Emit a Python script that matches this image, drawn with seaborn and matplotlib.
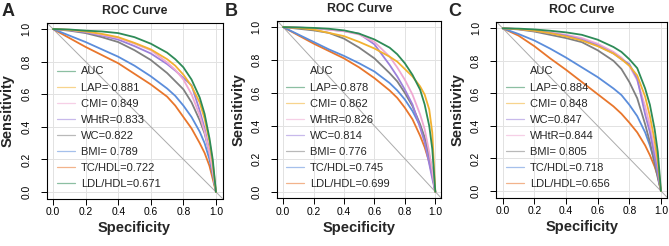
import numpy as np
import pandas as pd
import matplotlib
matplotlib.use("Agg")
import matplotlib.pyplot as plt
from matplotlib.lines import Line2D
import seaborn as sns

# ---------------- data ----------------
SPEC = [0, .1, .2, .3, .4, .5, .6, .7, .75, .8, .85, .9, .93, .96, .98, 1.0]

# Panel A
A_LAP    = [1, .997, .99, .985, .975, .95, .91, .855, .815, .765, .69, .58, .48, .33, .20, 0]
A_CMI    = [1, .995, .985, .97, .95, .915, .875, .815, .775, .72, .65, .55, .45, .31, .18, 0]
A_WHTR   = [1, .995, .985, .965, .945, .91, .87, .795, .75, .69, .60, .47, .37, .24, .13, 0]
A_WC     = [1, .993, .98, .96, .935, .895, .85, .785, .745, .70, .655, .50, .39, .25, .13, 0]
A_BMI    = [1, .99, .975, .95, .92, .87, .81, .73, .68, .63, .55, .44, .36, .24, .12, 0]
A_TCHDL  = [1, .96, .92, .875, .83, .775, .71, .635, .59, .53, .46, .37, .30, .20, .11, 0]
A_LDLHDL = [1, .945, .89, .84, .79, .725, .66, .585, .53, .46, .39, .30, .24, .16, .08, 0]

# Panel B
B_LAP    = [1, .998, .995, .99, .98, .96, .925, .875, .835, .78, .71, .62, .53, .40, .26, 0]
B_CMI    = [1, .995, .985, .965, .945, .91, .87, .82, .79, .745, .70, .64, .59, .50, .36, 0]
B_WHTR   = [1, .997, .993, .985, .975, .955, .91, .82, .755, .68, .59, .47, .38, .24, .13, 0]
B_WC     = [1, .997, .993, .985, .975, .96, .895, .77, .70, .62, .53, .39, .30, .17, .08, 0]
B_BMI    = [1, .99, .98, .965, .93, .875, .81, .72, .67, .60, .52, .41, .33, .22, .12, 0]
B_TCHDL  = [1, .955, .91, .865, .825, .78, .73, .66, .615, .56, .49, .40, .32, .21, .11, 0]
B_LDLHDL = [1, .95, .90, .855, .81, .755, .69, .615, .57, .51, .44, .34, .27, .18, .10, 0]

# Panel C
C_LAP    = [1, .998, .993, .985, .975, .96, .93, .885, .855, .81, .755, .63, .53, .38, .24, 0]
C_CMI    = [1, .995, .985, .97, .95, .925, .89, .845, .81, .77, .71, .58, .46, .31, .18, 0]
C_WC     = [1, .995, .985, .97, .955, .93, .895, .845, .81, .78, .69, .47, .36, .21, .11, 0]
C_WHTR   = [1, .996, .988, .975, .96, .94, .905, .855, .82, .77, .68, .52, .40, .25, .13, 0]
C_BMI    = [1, .993, .98, .96, .94, .915, .865, .80, .75, .67, .57, .41, .30, .17, .08, 0]
C_TCHDL  = [1, .965, .925, .875, .82, .76, .70, .63, .59, .53, .46, .36, .28, .18, .10, 0]
C_LDLHDL = [1, .955, .89, .815, .745, .67, .595, .52, .475, .42, .36, .28, .22, .15, .09, 0]

A_LEGEND = ["AUC", "LAP= 0.881", "CMI= 0.849", "WHtR=0.833", "WC=0.822",
            "BMI= 0.789", "TC/HDL=0.722", "LDL/HDL=0.671"]
B_LEGEND = ["AUC", "LAP= 0.878", "CMI= 0.862", "WHtR=0.826", "WC=0.814",
            "BMI= 0.776", "TC/HDL=0.745", "LDL/HDL=0.699"]
C_LEGEND = ["AUC", "LAP= 0.884", "CMI= 0.848", "WC=0.847", "WHtR=0.844",
            "BMI= 0.805", "TC/HDL=0.718", "LDL/HDL=0.656"]

TICKS = [0.0, 0.2, 0.4, 0.6, 0.8, 1.0]
TICK_LABELS = ["0.0", "0.2", "0.4", "0.6", "0.8", "1.0"]

# ---------------- style ----------------
GREEN = "#2E8B57"
YELLOW = "#F2B130"
PINK = "#EFA8D2"
PURPLE = "#9B80DB"
GREY = "#808080"
BLUE = "#5B8DDB"
ORANGE = "#E8762C"

sns.set_style("white")
plt.rcParams["font.family"] = ["Liberation Sans", "DejaVu Sans"]

W, H = 669, 246
fig = plt.figure(figsize=(W / 100, H / 100), dpi=100)

panels = [
    dict(letter="A", letter_x=8, box=(46.5, 22.5, 222.5, 198.5),
         curves={"LAP": A_LAP, "CMI": A_CMI, "WHtR": A_WHTR, "WC": A_WC,
                 "BMI": A_BMI, "TC/HDL": A_TCHDL, "LDL/HDL": A_LDLHDL},
         colors={"LAP": GREEN, "CMI": YELLOW, "WHtR": PINK, "WC": PURPLE,
                 "BMI": GREY, "TC/HDL": BLUE, "LDL/HDL": ORANGE},
         legend=A_LEGEND,
         legend_colors=[GREEN, YELLOW, PINK, PURPLE, GREY, BLUE, ORANGE, GREEN],
         leg_x=57),
    dict(letter="B", letter_x=231, box=(277, 20.5, 441.4, 198.3),
         curves={"LAP": B_LAP, "CMI": B_CMI, "WHtR": B_WHTR, "WC": B_WC,
                 "BMI": B_BMI, "TC/HDL": B_TCHDL, "LDL/HDL": B_LDLHDL},
         colors={"LAP": GREEN, "CMI": YELLOW, "WHtR": PINK, "WC": PURPLE,
                 "BMI": GREY, "TC/HDL": BLUE, "LDL/HDL": ORANGE},
         legend=B_LEGEND,
         legend_colors=["none", GREEN, YELLOW, PINK, PURPLE, GREY, BLUE, ORANGE],
         leg_x=286),
    dict(letter="C", letter_x=455, box=(496.4, 21.8, 667.3, 197.5),
         curves={"LAP": C_LAP, "CMI": C_CMI, "WC": C_WC, "WHtR": C_WHTR,
                 "BMI": C_BMI, "TC/HDL": C_TCHDL, "LDL/HDL": C_LDLHDL},
         colors={"LAP": GREEN, "CMI": YELLOW, "WC": PURPLE, "WHtR": PINK,
                 "BMI": GREY, "TC/HDL": BLUE, "LDL/HDL": ORANGE},
         legend=C_LEGEND,
         legend_colors=["none", GREEN, YELLOW, PURPLE, PINK, GREY, BLUE, ORANGE],
         leg_x=506),
]

for p in panels:
    x0, y0, x1, y1 = p["box"]
    bw, bh = x1 - x0, y1 - y0
    ax = fig.add_axes([x0 / W, 1 - y1 / H, bw / W, bh / H])

    rows = []
    for name, vals in p["curves"].items():
        for s, v in zip(SPEC, vals):
            rows.append({"spec": s, "sens": v, "marker": name})
    df = pd.DataFrame(rows)

    ax.set_xlim(-0.04, 1.04)
    ax.set_ylim(-0.04, 1.04)
    for t in TICKS:
        ax.axvline(t, color="#E2E2E2", lw=0.7, zorder=0)
        ax.axhline(t, color="#E2E2E2", lw=0.7, zorder=0)
    ax.axline((0, 1), (1, 0), color="#ABABAB", lw=0.7, zorder=1)

    order = list(p["curves"].keys())[::-1]
    sns.lineplot(data=df, x="spec", y="sens", hue="marker", hue_order=order,
                 palette=p["colors"], estimator=None, sort=False,
                 legend=False, ax=ax, linewidth=1.3, zorder=2)

    ax.set_xticks(TICKS)
    ax.set_xticklabels(TICK_LABELS)
    ax.set_yticks(TICKS)
    ax.set_yticklabels(TICK_LABELS, rotation=90, va="center")
    ax.tick_params(axis="both", direction="out", length=4.5, width=0.7,
                   labelsize=7.4, colors="black", bottom=True, left=True)
    ax.tick_params(axis="x", pad=1.8)
    ax.tick_params(axis="y", pad=6.5)
    for sp in ax.spines.values():
        sp.set_visible(True)
        sp.set_color("black")
        sp.set_linewidth(0.8)

    ax.set_xlabel("Specificity", fontsize=10.5, fontweight="bold")
    ax.set_ylabel("Sensitivity", fontsize=10.5, fontweight="bold")
    ax.xaxis.set_label_coords(0.5, -29.5 / bh)
    ax.xaxis.label.set_va("center")
    ax.yaxis.set_label_coords(-38.5 / bw, 0.5)
    ax.yaxis.label.set_va("center")

    ax.text(0.5, 1 + 12 / bh, "ROC Curve", transform=ax.transAxes,
            ha="center", va="center", fontsize=8.8, fontweight="bold")

    handles = [Line2D([], [], color=c, lw=0.9, alpha=0.55) for c in p["legend_colors"]]
    leg_top = 66.5
    ax.legend(handles, p["legend"], loc="upper left",
              bbox_to_anchor=((p["leg_x"] - x0) / bw, (y1 - leg_top) / bh),
              frameon=False, borderaxespad=0, borderpad=0, fontsize=8,
              handlelength=1.65, handletextpad=0.5, labelspacing=0.55)

    fig.text(p["letter_x"] / W, 1 - 11 / H, p["letter"], ha="center", va="center",
             fontsize=13, fontweight="bold")

fig.savefig("out.png", dpi=100)
